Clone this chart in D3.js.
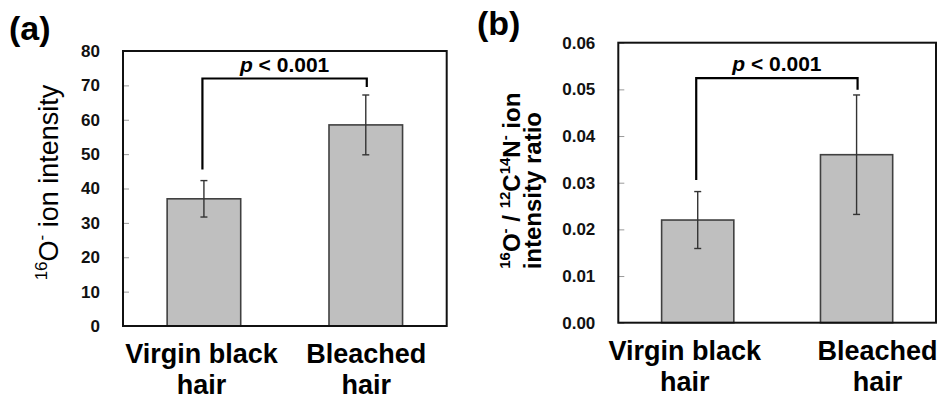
<!DOCTYPE html>
<html>
<head>
<meta charset="utf-8">
<script src="https://cdn.jsdelivr.net/npm/d3@7"></script>
<style>
  body { margin: 0; background: #fff; }
  svg { display: block; font-family: Arial, "Liberation Sans", sans-serif; }
</style>
</head>
<body>
<div id="chart"></div>
<script>
// data
var categories = ["Virgin black hair", "Bleached hair"];
var categoryLines = [["Virgin black", "hair"], ["Bleached", "hair"]];

var o16Means = [37.0, 58.5];
var o16Errors = [5.3, 8.7];
var o16Ticks = [0, 10, 20, 30, 40, 50, 60, 70, 80];

var ratioMeans = [0.022, 0.036];
var ratioErrors = [0.0061, 0.0128];
var ratioTicks = [0, 0.01, 0.02, 0.03, 0.04, 0.05, 0.06];

var pText = "< 0.001";
// bracket: top, left leg end, right leg end (data units)
var o16Bracket = [72, 45.5, 69.5];
var ratioBracket = [0.0524, 0.0306, 0.0499];

var svgWidth = 942, svgHeight = 399;

var svg = d3.select("#chart")
  .append("svg")
  .attr("width", svgWidth)
  .attr("height", svgHeight);

function drawPanel(cfg) {
  var w = cfg.right - cfg.left;
  var h = cfg.bottom - cfg.top;

  var g = svg.append("g")
    .attr("transform", `translate(${cfg.left}, ${cfg.top})`);

  var x = d3.scaleBand()
    .domain(categories)
    .range([0, w])
    .paddingInner(0.5455)
    .paddingOuter(0.2727);

  var y = d3.scaleLinear()
    .domain(cfg.domain)
    .range([h, 0]);

  var rows = categories.map(function(c, i) {
    return { cat: c, mean: cfg.means[i], err: cfg.errors[i], lines: categoryLines[i], dx: cfg.labelDx[i] };
  });

  // y axis: small ticks inside the box
  var yAxis = g.append("g")
    .call(d3.axisLeft(y).tickValues(cfg.ticks).tickSize(-6).tickPadding(23).tickFormat(d3.format(cfg.fmt)));
  yAxis.select(".domain").remove();
  yAxis.selectAll(".tick line").attr("stroke", "#9a9a9a").attr("stroke-width", 1);
  yAxis.selectAll(".tick text")
    .style("font-family", "Arial, 'Liberation Sans', sans-serif")
    .style("font-size", "17px")
    .style("font-weight", "bold")
    .attr("fill", "#111");

  // bars
  g.selectAll(".bar")
    .data(rows)
    .enter()
    .append("rect")
    .attr("class", "bar")
    .attr("x", d => x(d.cat))
    .attr("y", d => y(d.mean))
    .attr("width", x.bandwidth())
    .attr("height", d => h - y(d.mean))
    .attr("fill", "#bfbfbf")
    .attr("stroke", "#404040")
    .attr("stroke-width", 1.6);

  // error bars
  var eb = g.selectAll(".err")
    .data(rows)
    .enter()
    .append("g")
    .attr("class", "err")
    .attr("stroke", "#333")
    .attr("stroke-width", 1.4);
  eb.append("line")
    .attr("x1", d => x(d.cat) + x.bandwidth() / 2)
    .attr("x2", d => x(d.cat) + x.bandwidth() / 2)
    .attr("y1", d => y(d.mean + d.err))
    .attr("y2", d => y(d.mean - d.err));
  eb.selectAll(".cap")
    .data(d => [[d, d.mean + d.err], [d, d.mean - d.err]])
    .enter()
    .append("line")
    .attr("x1", d => x(d[0].cat) + x.bandwidth() / 2 - 3.5)
    .attr("x2", d => x(d[0].cat) + x.bandwidth() / 2 + 3.5)
    .attr("y1", d => y(d[1]))
    .attr("y2", d => y(d[1]));

  // plot frame
  g.append("rect")
    .attr("width", w)
    .attr("height", h)
    .attr("fill", "none")
    .attr("stroke", "#111")
    .attr("stroke-width", 2);

  // significance bracket
  var cx0 = x(categories[0]) + x.bandwidth() / 2 - 1.5;
  var cx1 = x(categories[1]) + x.bandwidth() / 2 + 1;
  var b = cfg.bracket;
  g.append("path")
    .attr("d", `M${cx0},${y(b[1])}V${y(b[0])}H${cx1}V${y(b[2])}`)
    .attr("fill", "none")
    .attr("stroke", "#000")
    .attr("stroke-width", 2.2);
  var pt = g.append("text")
    .attr("x", (cx0 + cx1) / 2)
    .attr("y", y(b[0]) - 7)
    .attr("text-anchor", "middle")
    .style("font-size", "21px")
    .style("font-weight", "bold");
  pt.append("tspan").style("font-style", "italic").text("p");
  pt.append("tspan").text(" " + pText);

  // category labels
  var cl = g.selectAll(".cat")
    .data(rows)
    .enter()
    .append("text")
    .attr("class", "cat")
    .attr("text-anchor", "middle")
    .style("font-size", "27px")
    .style("font-weight", "bold");
  cl.selectAll("tspan")
    .data(d => d.lines.map((s, i) => ({ s: s, i: i, d: d })))
    .enter()
    .append("tspan")
    .attr("x", t => x(t.d.cat) + x.bandwidth() / 2 + t.d.dx)
    .attr("y", t => h + 37 + t.i * 31)
    .text(t => t.s);

  // panel letter
  svg.append("text")
    .attr("x", cfg.letterX)
    .attr("y", cfg.letterY)
    .style("font-size", "34px")
    .style("font-weight", "bold")
    .text(cfg.letter);

  cfg.yLabel(svg, cfg.top + h / 2);
}

// label with superscripts; parts = [[text, isSup], ...]
// shift in px, restored on the next normal piece so the baseline does not drift
function richLabel(t, parts, size) {
  var up = Math.round(size * 0.4);
  var raised = false;
  parts.forEach(function(p) {
    if (p[1]) {
      t.append("tspan")
        .attr("dy", raised ? 0 : -up)
        .style("font-size", Math.round(size * 0.62) + "px")
        .text(p[0]);
      raised = true;
    } else {
      t.append("tspan").attr("dy", raised ? up : 0).text(p[0]);
      raised = false;
    }
  });
}

drawPanel({
  left: 123, right: 446.7, top: 51, bottom: 326,
  domain: [0, 80], ticks: o16Ticks, fmt: "d",
  means: o16Means, errors: o16Errors, bracket: o16Bracket,
  labelDx: [-2.5, 0.5],
  letter: "(a)", letterX: 9, letterY: 40,
  yLabel: function(s, cy) {
    var t = s.append("text")
      .attr("transform", `translate(58, ${cy - 6}) rotate(-90)`)
      .attr("text-anchor", "middle")
      .style("font-size", "27px");
    richLabel(t, [["16", 1], ["O", 0], ["-", 1], [" ion intensity", 0]], 27);
  }
});

drawPanel({
  left: 618.3, right: 936, top: 42.7, bottom: 322.7,
  domain: [0, 0.06], ticks: ratioTicks, fmt: ".2f",
  means: ratioMeans, errors: ratioErrors, bracket: ratioBracket,
  labelDx: [-13, 21],
  letter: "(b)", letterX: 477, letterY: 35,
  yLabel: function(s, cy) {
    var t1 = s.append("text")
      .attr("transform", `translate(520, ${cy - 2}) rotate(-90)`)
      .attr("text-anchor", "middle")
      .style("font-size", "24px")
      .style("font-weight", "bold");
    richLabel(t1, [["16", 1], ["O", 0], ["-", 1], [" / ", 0], ["12", 1], ["C", 0], ["14", 1], ["N", 0], ["-", 1], [" ion", 0]], 24);
    s.append("text")
      .attr("transform", `translate(541, ${cy + 8}) rotate(-90)`)
      .attr("text-anchor", "middle")
      .style("font-size", "24px")
      .style("font-weight", "bold")
      .text("intensity ratio");
  }
});
</script>
</body>
</html>
